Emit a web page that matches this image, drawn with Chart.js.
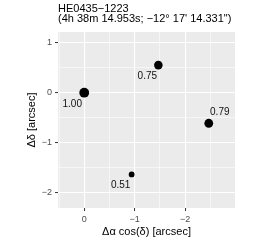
<!DOCTYPE html>
<html><head><meta charset="utf-8">
<script src="https://cdn.jsdelivr.net/npm/chart.js@4"></script>
<style>html,body{margin:0;padding:0;background:#fff;}canvas{display:block}</style>
</head><body>
<canvas id="c" width="258" height="244"></canvas>
<script>
// ---- data ----
const titleLines = ['HE0435\u22121223', '(4h 38m 14.953s; \u221212\u00b0 17\' 14.331")'];
const xAxisLabel = '\u0394\u03b1 cos(\u03b4) [arcsec]';
const yAxisLabel = '\u0394\u03b4 [arcsec]';
const imageNames = ['A', 'B', 'C', 'D'];
const raOffsets = [0, -1.47, -2.47, -0.94];
const decOffsets = [0, 0.55, -0.61, -1.63];
const fluxRatios = [1.00, 0.75, 0.79, 0.51];
const fluxLabels = ['1.00', '0.75', '0.79', '0.51'];
const xMajorTicks = [0, -1, -2];
const yMajorTicks = [1, 0, -1, -2];
const xGridValues = [0.5, 0, -0.5, -1, -1.5, -2, -2.5];
const yGridValues = [1, 0.5, 0, -0.5, -1, -1.5, -2];

// ---- styling helpers ----
const FONT = "'Liberation Sans', Arial, Helvetica, sans-serif";
const fMin = Math.min(...fluxRatios), fMax = Math.max(...fluxRatios);
function radiusFor(v) {
  const rMin = 2.9, rMax = 4.9;
  return rMin + (rMax - rMin) * Math.sqrt((v - fMin) / (fMax - fMin));
}
function isMajor(v, majors) { return majors.some(m => Math.abs(m - v) < 1e-9); }
function fmt(v) { return v < 0 ? '\u2212' + Math.abs(v) : String(v); }
// label nudges (pixels) per label side
const labelNudge = [[-12, 11.5], [-11, 11], [11, -11], [-11, 11]];

const bgPlugin = {
  id: 'bg',
  beforeDraw(chart) {
    const {ctx, chartArea: a} = chart;
    ctx.save();
    ctx.fillStyle = '#ffffff';
    ctx.fillRect(0, 0, chart.width, chart.height);
    ctx.fillStyle = '#EBEBEB';
    ctx.fillRect(a.left, a.top, a.right - a.left, a.bottom - a.top);
    ctx.restore();
  }
};

const textPlugin = {
  id: 'texts',
  afterDraw(chart) {
    const {ctx, chartArea: a} = chart;
    ctx.save();
    ctx.fillStyle = '#000';
    ctx.font = '11px ' + FONT;
    ctx.textAlign = 'left';
    ctx.textBaseline = 'alphabetic';
    ctx.fillText(titleLines[0], a.left, 12);
    ctx.fillText(titleLines[1], a.left, 22);
    // axis titles
    ctx.textAlign = 'center';
    ctx.fillText(xAxisLabel, (a.left + a.right) / 2, 235);
    ctx.save();
    ctx.translate(35, (a.top + a.bottom) / 2);
    ctx.rotate(-Math.PI / 2);
    ctx.fillText(yAxisLabel, 0, 0);
    ctx.restore();
    // point labels
    const meta = chart.getDatasetMeta(0);
    ctx.font = '10px ' + FONT;
    ctx.textBaseline = 'middle';
    ctx.fillStyle = '#111';
    meta.data.forEach((pt, i) => {
      const [dx, dy] = labelNudge[i];
      ctx.fillText(fluxLabels[i], pt.x + dx, pt.y + dy);
    });
    ctx.restore();
  }
};

function axis(opts) {
  return Object.assign({
    type: 'linear',
    border: {display: false},
    grid: {
      color: '#ffffff',
      lineWidth: c => (c.tick && isMajor(c.tick.value, opts.majors)) ? 1.1 : 0.55,
      drawTicks: true,
      tickLength: 3,
      tickWidth: 1,
      tickColor: c => (c.tick && isMajor(c.tick.value, opts.majors)) ? '#333333' : 'rgba(0,0,0,0)'
    },
    ticks: {
      autoSkip: false,
      maxRotation: 0,
      color: '#4D4D4D',
      font: {family: FONT, size: 9},
      callback: v => isMajor(v, opts.majors) ? fmt(v) : ''
    },
    afterBuildTicks: s => { s.ticks = opts.grid.map(v => ({value: v})); }
  }, opts.extra);
}

new Chart(document.getElementById('c'), {
  type: 'scatter',
  data: {
    labels: imageNames,
    datasets: [{
      data: raOffsets.map((x, i) => ({x: x, y: decOffsets[i]})),
      backgroundColor: '#000',
      borderColor: '#000',
      borderWidth: 0,
      pointRadius: c => radiusFor(fluxRatios[c.dataIndex]),
      pointHoverRadius: c => radiusFor(fluxRatios[c.dataIndex])
    }]
  },
  options: {
    responsive: false,
    animation: false,
    events: [],
    layout: {padding: {top: 32, right: 23, left: 0, bottom: 0}},
    plugins: {legend: {display: false}, tooltip: {enabled: false}, title: {display: false}},
    scales: {
      x: axis({majors: xMajorTicks, grid: xGridValues, extra: {
        reverse: true, min: -2.99, max: 0.52,
        afterFit: s => { s.height = 36; }
      }}),
      y: axis({majors: yMajorTicks, grid: yGridValues, extra: {
        min: -2.3, max: 1.21,
        afterFit: s => { s.width = 58; }
      }})
    }
  },
  plugins: [bgPlugin, textPlugin]
});
</script>
</body></html>
